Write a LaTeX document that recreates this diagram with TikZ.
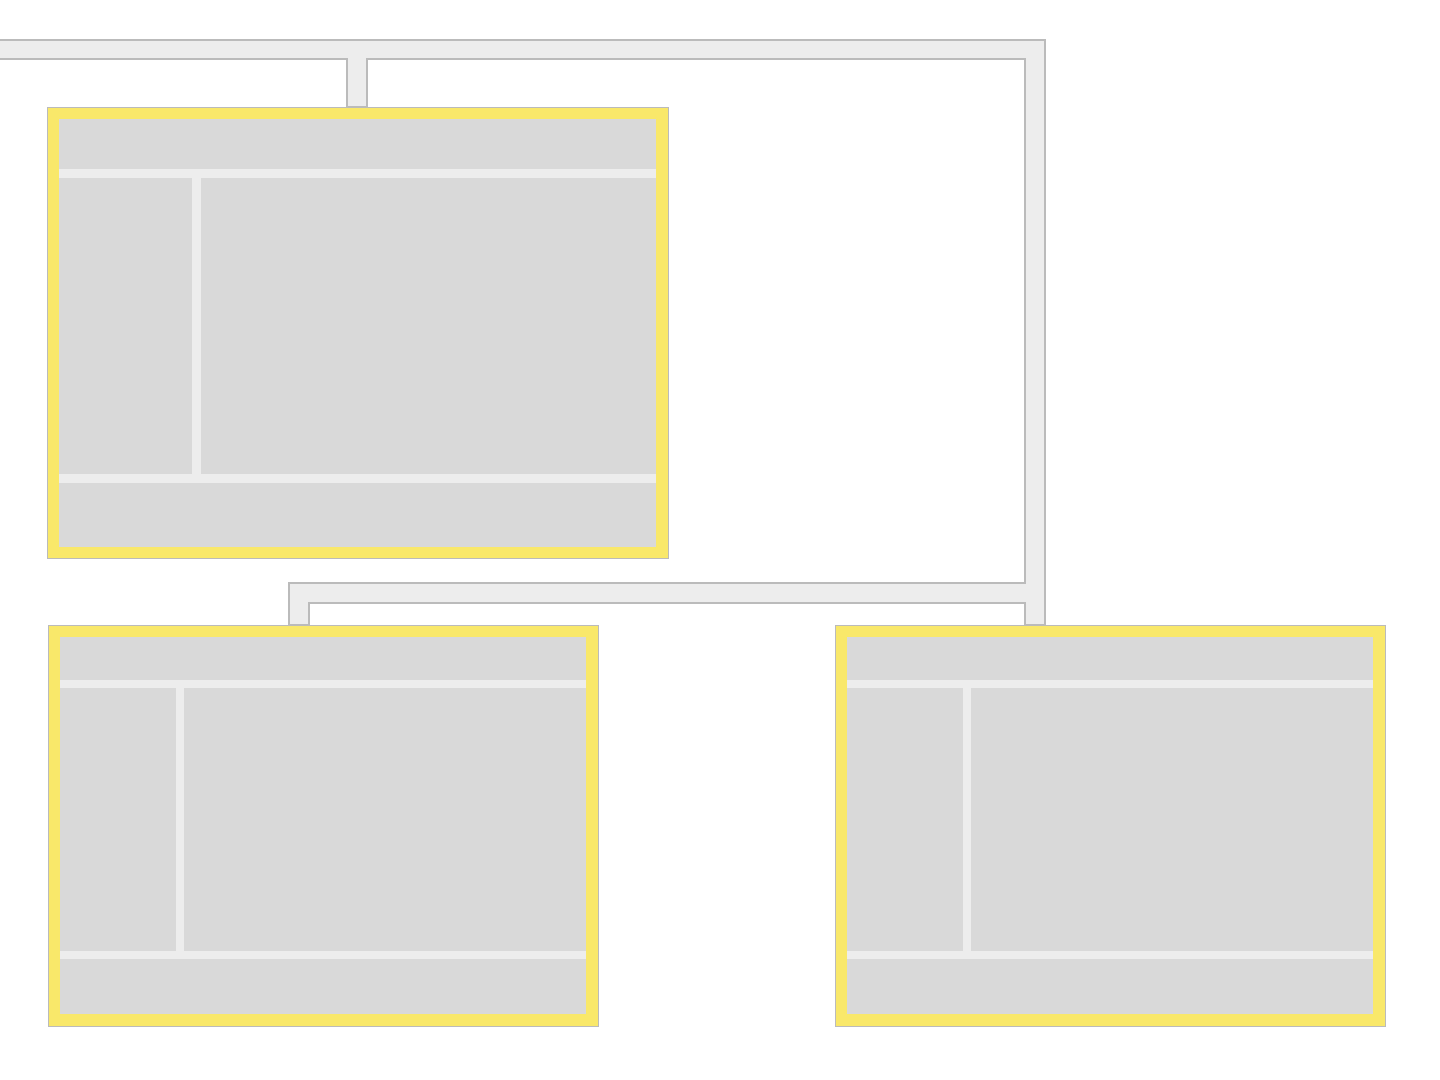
\documentclass[tikz,border=0pt]{standalone}
\usepackage{tikz}

\definecolor{pipefill}{HTML}{EDEDED}
\definecolor{edge}{HTML}{BBBBBB}
\definecolor{hilite}{HTML}{F9E86A}
\definecolor{panel}{HTML}{D9D9D9}

\tikzset{
  frame/.style={draw=edge, fill=hilite, line width=0.3pt, inner sep=0pt, anchor=north west},
  cell/.style={fill=panel},
  duct/.style={draw=edge, fill=pipefill, line width=0.3pt},
}

\begin{document}
\begin{tikzpicture}[x=0.01cm, y=-0.01cm]
		\clip (0,0) rectangle (1440,1080);
		% duct between the panels
		\draw[duct] (-5,40) -- (1045,40) -- (1045,625) -- (1025,625) -- (1025,603) -- (309,603) -- (309,625) -- (289,625) -- (289,583) -- (1025,583) -- (1025,59) -- (367,59) -- (367,107) -- (347,107) -- (347,59) -- (-5,59) -- cycle;
		% top panel
		\node[frame, minimum width=6.21cm, minimum height=4.51cm] (top) at (47,107) {};
		\fill[pipefill] (59,119) rectangle (656,547);
		\fill[cell] (59,119) rectangle (656,169);
		\fill[cell] (59,178) rectangle (192,474);
		\fill[cell] (201,178) rectangle (656,474);
		\fill[cell] (59,483) rectangle (656,547);
		% lower left panel
		\node[frame, minimum width=5.50cm, minimum height=4.01cm] (left) at (48,625) {};
		\fill[pipefill] (60,637) rectangle (586,1014);
		\fill[cell] (60,637) rectangle (586,680);
		\fill[cell] (60,688) rectangle (176,951);
		\fill[cell] (184,688) rectangle (586,951);
		\fill[cell] (60,959) rectangle (586,1014);
		% lower right panel
		\node[frame, minimum width=5.50cm, minimum height=4.01cm] (right) at (835,625) {};
		\fill[pipefill] (847,637) rectangle (1373,1014);
		\fill[cell] (847,637) rectangle (1373,680);
		\fill[cell] (847,688) rectangle (963,951);
		\fill[cell] (971,688) rectangle (1373,951);
		\fill[cell] (847,959) rectangle (1373,1014);
\end{tikzpicture}
\end{document}
